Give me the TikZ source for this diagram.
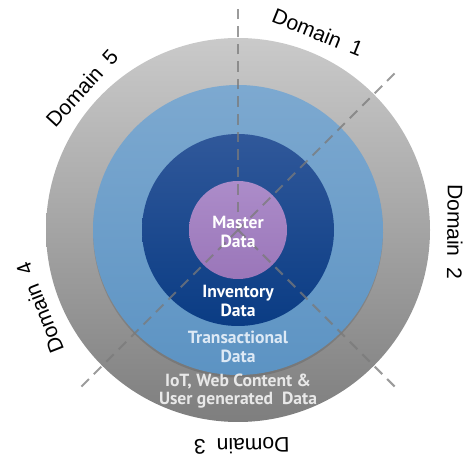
\documentclass[tikz,border=0pt]{standalone}
\usepackage{fontspec}
\setmainfont{Liberation Sans}
\newfontfamily\ptsans{PT Sans}
\usepackage{xcolor}
\definecolor{outertop}{HTML}{CACACA}
\definecolor{outerbot}{HTML}{7E7E7E}
\definecolor{transtop}{HTML}{7DA9D0}
\definecolor{transbot}{HTML}{5C93C3}
\definecolor{invtop}{HTML}{30589A}
\definecolor{invbot}{HTML}{0A3C84}
\definecolor{mastertop}{HTML}{AC8CC9}
\definecolor{masterbot}{HTML}{9A76B9}
\definecolor{dashgray}{HTML}{7A7A7A}
\definecolor{transtext}{HTML}{DDE9F5}
\definecolor{iottext}{HTML}{E8E8E8}

\begin{document}
\begin{tikzpicture}
                \tikzset{
                  ringtext/.style={font=\ptsans\bfseries\fontsize{10}{10.4}\selectfont, align=center, text=white, inner sep=0pt},
                  domainlabel/.style={font=\fontsize{12}{12}\selectfont, text=black, inner sep=0pt},
                  divider/.style={dashgray, opacity=0.75, line width=1.2pt, dash pattern=on 6pt off 4pt}
                }
                \useasboundingbox (0,0) rectangle (9.5,9.36);
                \coordinate (c) at (4.76,4.76);

                %% rings
                \shade[top color=outertop, bottom color=outerbot] (c) circle (3.84);
                \fill[black, opacity=0.12] ([yshift=-0.05cm]c) circle (2.9);
                \shade[top color=transtop, bottom color=transbot] (c) circle (2.9);
                \shade[top color=invtop, bottom color=invbot] (c) circle (1.92);
                \shade[top color=mastertop, bottom color=masterbot] (c) circle (0.98);

                %% dividers
                \foreach \a in {90,45,-45,-135}
                  \draw[divider] (c) -- ++(\a:4.5);

                %% data layers
                \node[ringtext] (master) at ([yshift=-0.04cm]c) {Master\\Data};
                \node[ringtext] (inventory) at ([yshift=-1.42cm]c) {Inventory\\Data};
                \node[ringtext, text=transtext] (transactional) at ([yshift=-2.34cm]c) {Transactional\\Data};
                \node[ringtext, text=iottext] (iot) at ([yshift=-3.22cm]c) {IoT, Web Content \&\\User generated\ \ Data};

                %% domains
                \node[domainlabel, rotate=-22] (dom1) at ([shift={(68:4.26)}]c) {Domain\hspace{0.25em} 1};
                \node[domainlabel, rotate=-90.5] (dom2) at ([shift={(-0.5:4.34)}]c) {Domain\hspace{0.25em} 2};
                \node[domainlabel, rotate=181] (dom3) at ([shift={(-89:4.32)}]c) {Domain\hspace{0.25em} 3};
                \node[domainlabel, rotate=111.5] (dom4) at ([shift={(201.5:4.26)}]c) {Domain\hspace{0.25em} 4};
                \node[domainlabel, rotate=47.7] (dom5) at ([shift={(137.7:4.22)}]c) {Domain\hspace{0.25em} 5};
\end{tikzpicture}
\end{document}
